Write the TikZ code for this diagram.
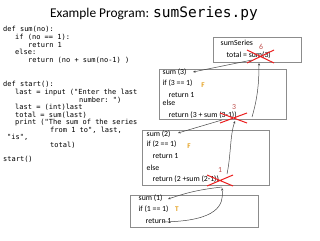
\documentclass[tikz,border=0pt]{standalone}
\usepackage{fontspec}
\setmainfont{Carlito}
\setmonofont{DejaVu Sans Mono}
\usetikzlibrary{arrows.meta}
\definecolor{boxgray}{RGB}{140,140,140}
\definecolor{linegray}{RGB}{70,70,70}
\definecolor{crossred}{RGB}{235,30,30}
\definecolor{digitred}{RGB}{192,80,77}
\definecolor{flagorange}{RGB}{228,160,30}
\begin{document}
\begin{tikzpicture}[x=1pt,y=-1pt,
  code/.style={anchor=west, inner sep=0pt, font=\ttfamily\fontsize{7}{8}\selectfont, text height=4.8pt, text depth=1.3pt},
  btext/.style={anchor=west, inner sep=0.5pt, font=\fontsize{7.8}{9}\selectfont, text height=5.4pt, text depth=1.6pt},
  framebox/.style={draw=boxgray, line width=0.6pt, inner sep=0pt, minimum width=#1},
  framebox/.default=127pt,
  conn/.style={draw=linegray, line width=0.5pt, -{Stealth[length=2.6pt,width=2.2pt]}},
  crossline/.style={draw=crossred, line width=1pt},
  digit/.style={text=digitred, inner sep=0pt, font=\fontsize{7.8}{9}\selectfont},
  flag/.style={text=flagorange, inner sep=0pt, font=\bfseries\fontsize{7.2}{8}\selectfont}
]
\useasboundingbox (0,0) rectangle (320,240);

% title
\node[anchor=base west, inner sep=0pt] (title) at (50,18)
  {\fontsize{13.4}{15}\selectfont Example Program: {\ttfamily\fontsize{14.5}{16}\selectfont sumSeries.py}};

% code
\node[code] (c1) at (3,30) {def sum(no):};
\node[code] (c2) at (15,38) {if (no == 1):};
\node[code] (c3) at (28,46) {return 1};
\node[code] (c4) at (15,53) {else:};
\node[code] (c5) at (28,61) {return (no + sum(no-1) )};
\node[code] (c6) at (3,85) {def start():};
\node[code] (c7) at (15,93) {last = input ("Enter the last};
\node[code] (c8) at (79,101) {number: ")};
\node[code] (c9) at (15,108) {last = (int)last};
\node[code] (c10) at (15,116) {total = sum(last)};
\node[code] (c11) at (15,123) {print ("The sum of the series};
\node[code] (c12) at (50,131) {from 1 to", last,};
\node[code] (c13) at (7,138) {"is",};
\node[code] (c14) at (50,146) {total)};
\node[code] (c15) at (3,160) {start()};

% frames
\node[framebox=88pt, minimum height=25pt] (b1) at (257,49.5) {};
\node[framebox, minimum height=50pt] (b2) at (222.5,94) {};
\node[framebox, minimum height=55pt] (b3) at (205.5,157.5) {};
\node[framebox=128pt, minimum height=32pt] (b4) at (194,211) {};

% box 1
\node[btext] (t1a) at (220,44) {sumSeries};
\node[btext] (t1b) at (226,56) {total = sum(3)};
% box 2
\node[btext] (t2a) at (162,73) {sum (3)};
\node[btext] (t2b) at (162,84) {if (3 == 1)};
\node[btext] (t2c) at (168,96) {return 1};
\node[btext] (t2d) at (162,104) {else};
\node[btext] (t2e) at (168,116) {return (3 + sum (3-1))};
% box 3
\node[btext] (t3a) at (146,135) {sum (2)};
\node[btext] (t3b) at (146,145) {if (2 == 1)};
\node[btext] (t3c) at (152,157) {return 1};
\node[btext] (t3d) at (146,169) {else};
\node[btext] (t3e) at (152,180) {return (2 +sum (2-1))};
% box 4
\node[btext] (t4a) at (138,199) {sum (1)};
\node[btext] (t4b) at (138,210) {if (1 == 1)};
\node[btext] (t4c) at (145,222) {return 1};

% flags
\node[flag] (f1) at (203,85) {F};
\node[flag] (f2) at (189,146) {F};
\node[flag] (f3) at (177,209) {T};

% red digits
\node[digit] (d1) at (261,47) {6};
\node[digit] (d2) at (234,107) {3};
\node[digit] (d3) at (220,170) {1};

% crosses
\draw[crossline] (247,50) -- (274,63) (247,63) -- (274,50);
\draw[crossline] (220,113) -- (247,123) (220,123) -- (247,113);
\draw[crossline] (207,175) -- (233,186) (207,186) -- (233,175);

% connector points
\coordinate (s1) at (252,60);
\coordinate (e1) at (193,72);
\coordinate (r1s) at (252,117);
\coordinate (r1e) at (259,63);
\coordinate (s2) at (222,120);
\coordinate (e2) at (178,133);
\coordinate (r2s) at (227,174);
\coordinate (r2e) at (235,121);
\coordinate (s3) at (222,187);
\coordinate (e3) at (168,199);
\coordinate (r3s) at (163,222);
\coordinate (r3e) at (222,188);

% connectors
\draw[conn] (s1) -- (e1);
\draw[conn] (r1s) .. controls (257,100) and (259,85) .. (r1e);
\draw[conn] (s2) -- (e2);
\draw[conn] (r2s) .. controls (231,155) and (230,135) .. (r2e);
\draw[conn] (s3) to[bend right=6] (e3);
\draw[conn] (r3s) .. controls (218,221) and (224,205) .. (r3e);
\end{tikzpicture}
\end{document}
